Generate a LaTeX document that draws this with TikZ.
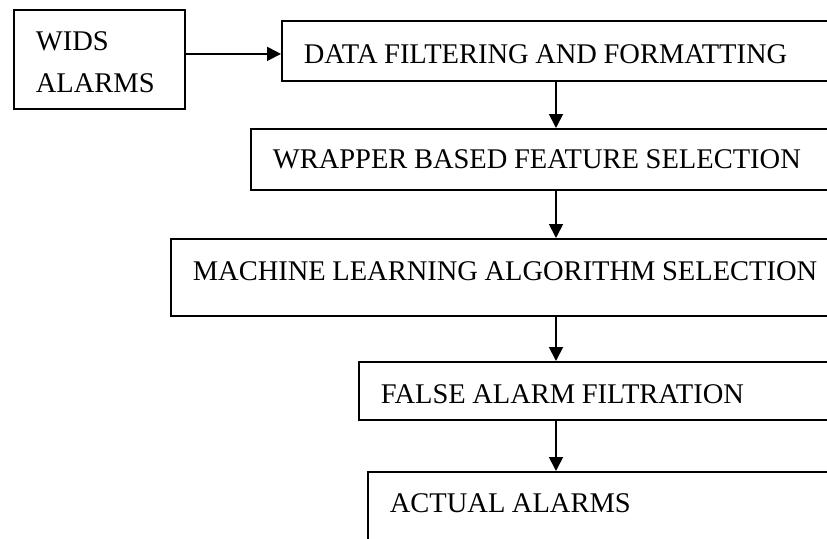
\documentclass[tikz,border=0pt]{standalone}
\usepackage{fontspec}
\setmainfont{Liberation Serif}
\usetikzlibrary{arrows.meta}

\newcommand{\stagefont}{\fontsize{28.5}{42}\selectfont\spaceskip=0.23em plus 0.1em\relax}

\tikzset{
  stage/.style={draw, line width=1.8pt, inner xsep=22pt, inner ysep=0pt,
    align=flush left, anchor=north west, font=\stagefont},
  flow/.style={-{Triangle[length=14pt,width=14pt]}, line width=1.8pt},
}

\begin{document}
\begin{tikzpicture}[x=1pt,y=-1pt]
    \clip (0,0) rectangle (827,538); % page size of the reference

    % stages of the flow
    \node[stage, text width=127pt, text height=41pt, text depth=58pt] (wids) at (13,9) {WIDS\\ALARMS};
    \node[stage, text width=560pt, text height=43pt, text depth=17pt] (filter) at (281,20) {DATA FILTERING AND FORMATTING};
    \node[stage, text width=600pt, text height=40pt, text depth=21pt] (wrapper) at (250,128) {WRAPPER BASED FEATURE SELECTION};
    \node[stage, text width=680pt, text height=42pt, text depth=35pt] (learning) at (170,238) {MACHINE LEARNING ALGORITHM SELECTION};
    \node[stage, text width=500pt, text height=42pt, text depth=16pt] (falsealarm) at (358,361) {FALSE ALARM FILTRATION};
    \node[stage, text width=500pt, text height=41pt, text depth=60pt] (actual) at (367,471) {ACTUAL ALARMS};

    % arrows
    \coordinate (spine) at (556,0);
    \draw[flow] ([yshift=5.5pt]wids.east) -- ([yshift=5.5pt]wids.east -| filter.west);
    \draw[flow] (filter.south -| spine) -- (wrapper.north -| spine);
    \draw[flow] (wrapper.south -| spine) -- (learning.north -| spine);
    \draw[flow] (learning.south -| spine) -- (falsealarm.north -| spine);
    \draw[flow] (falsealarm.south -| spine) -- (actual.north -| spine);
\end{tikzpicture}
\end{document}
